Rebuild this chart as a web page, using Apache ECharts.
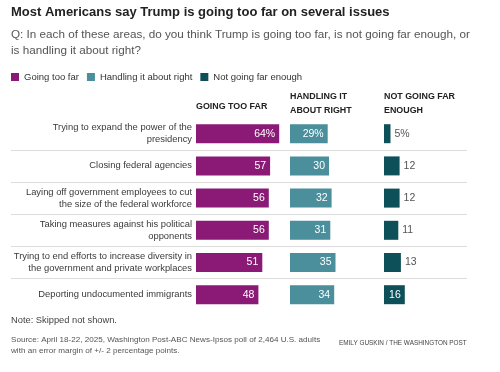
<!DOCTYPE html>
<html><head><meta charset="utf-8">
<script src="https://cdn.jsdelivr.net/npm/echarts@6/dist/echarts.min.js"></script>
<style>html,body{margin:0;padding:0;background:#fff}#c{width:500px;height:372px}</style>
</head><body><div id="c"></div>
<script>
var categories = [
  "Trying to expand the power of the\npresidency",
  "Closing federal agencies",
  "Laying off government employees to cut\nthe size of the federal workforce",
  "Taking measures against his political\nopponents",
  "Trying to end efforts to increase diversity in\nthe government and private workplaces",
  "Deporting undocumented immigrants"
];
var goingTooFar = [64, 57, 56, 56, 51, 48];
var handlingRight = [29, 30, 32, 31, 35, 34];
var notFarEnough = [5, 12, 12, 11, 13, 16];
var seriesNames = ["Going too far", "Handling it about right", "Not going far enough"];
var headers = ["GOING TOO FAR", "HANDLING IT\nABOUT RIGHT", "NOT GOING FAR\nENOUGH"];
var colors = ["#8a1a76", "#4a8f9b", "#0e5059"];

var FONT = "'Liberation Sans', Arial, sans-serif";
var gTop = 117.6, gH = 193.2, pxPerUnit = 1.3;
var colLeft = [196, 290, 384];

var grids = [], xAxes = [], yAxes = [], series = [];
grids.push({left: 11, width: 456, top: gTop, height: gH, outerBoundsMode: 'none', containLabel: false});
xAxes.push({gridIndex: 0, type: 'value', show: false, min: 0, max: 1});
yAxes.push({gridIndex: 0, type: 'value', min: 0, max: categories.length, interval: 1, inverse: true,
  axisLine: {show: false}, axisTick: {show: false}, axisLabel: {show: false},
  splitLine: {show: true, showMinLine: false, showMaxLine: false, lineStyle: {color: '#dcdcdc', width: 1}}});
series.push({type: 'scatter', xAxisIndex: 0, yAxisIndex: 0, data: [], silent: true});

var datas = [goingTooFar, handlingRight, notFarEnough];
for (var k = 0; k < 3; k++) {
  var gi = k + 1;
  grids.push({left: colLeft[k], width: 100 * pxPerUnit, top: gTop, height: gH, outerBoundsMode: 'none', containLabel: false});
  xAxes.push({gridIndex: gi, type: 'value', min: 0, max: 100, show: false});
  yAxes.push({gridIndex: gi, type: 'category', data: categories, inverse: true,
    axisLine: {show: false}, axisTick: {show: false},
    axisLabel: k === 0 ? {show: true, color: '#3a3a3a', fontFamily: FONT, fontSize: 9.4, lineHeight: 12.3, margin: 4, align: 'right'} : {show: false}
  });
  (function (k) {
    var d = datas[k];
    series.push({
      type: 'bar', name: seriesNames[k], xAxisIndex: gi, yAxisIndex: gi, barWidth: 19,
      itemStyle: {color: colors[k]},
      data: d.map(function (v, i) {
        var inside = (k < 2) || v >= 15;
        return {value: v, label: {
          show: true,
          position: inside ? 'insideRight' : 'right',
          distance: 4,
          color: inside ? '#fff' : '#555',
          fontFamily: FONT, fontSize: 10.5,
          formatter: function (p) { return p.dataIndex === 0 ? p.value + '%' : String(p.value); }
        }};
      })
    });
  })(k);
}

var chart = echarts.init(document.getElementById('c'), null, {renderer: 'canvas'});
var graphics = [
  {type: 'text', left: 11, top: 6, style: {text: "Most Americans say Trump is going too far on several issues", font: "bold 13px " + FONT, fill: '#222'}},
  {type: 'text', left: 11, top: 27, style: {text: "Q: In each of these areas, do you think Trump is going too far, is not going far enough, or\nis handling it about right?", font: "11.7px " + FONT, fill: '#555', lineHeight: 16}}
];
for (var h = 0; h < 3; h++) {
  graphics.push({type: 'text', left: colLeft[h], top: h === 0 ? 100 : 90, style: {text: headers[h], font: "bold 8.9px " + FONT, fill: '#222', lineHeight: 14}});
}
graphics.push({type: 'text', left: 11, top: 316, style: {text: "Note: Skipped not shown.", font: "9.3px " + FONT, fill: '#444'}});
graphics.push({type: 'text', left: 11, top: 334, style: {text: "Source: April 18-22, 2025, Washington Post-ABC News-Ipsos poll of 2,464 U.S. adults\nwith an error margin of +/- 2 percentage points.", font: "8.1px " + FONT, fill: '#555', lineHeight: 11.5}});
graphics.push({type: 'text', left: 339, top: 340, style: {text: "EMILY GUSKIN / THE WASHINGTON POST", font: "6.4px " + FONT, fill: '#444'}});

chart.setOption({
  animation: false,
  legend: {left: 6, top: 67, itemWidth: 8, itemHeight: 8, itemGap: 8, icon: 'rect',
    textStyle: {fontFamily: FONT, fontSize: 9.5, color: '#333'},
    data: seriesNames},
  grid: grids, xAxis: xAxes, yAxis: yAxes, series: series, graphic: graphics
});
</script></body></html>
